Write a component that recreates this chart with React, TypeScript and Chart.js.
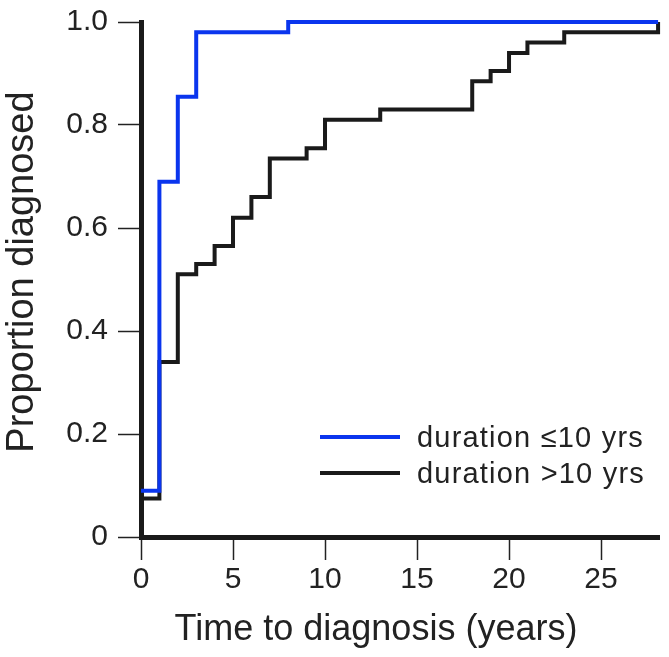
import React, { useEffect, useRef } from "react";
import { Chart, registerables } from "chart.js";

Chart.register(...registerables);

// Kaplan–Meier style cumulative proportion diagnosed
const shortDurationLabel = "duration ≤10 yrs";
const shortDurationTimes = [0, 1, 2, 3, 8, 28.1];
const shortDurationProportion = [0.09, 0.69, 0.855, 0.98, 1.0, 1.0];

const longDurationLabel = "duration >10 yrs";
const longDurationTimes = [0, 1, 2, 3, 4, 5, 6, 7, 9, 10, 13, 18, 19, 20, 21, 23, 28.1];
const longDurationProportion = [
  0.075, 0.34, 0.51, 0.53, 0.565, 0.62, 0.66, 0.735, 0.755, 0.81, 0.83, 0.885, 0.905, 0.94,
  0.96, 0.98, 1.0,
];

const xTickValues = [0, 5, 10, 15, 20, 25];
const yTickValues = [0, 0.2, 0.4, 0.6, 0.8, 1.0];
const xAxisTitle = "Time to diagnosis (years)";
const yAxisTitle = "Proportion diagnosed";

const BLUE = "#0a35ee";
const BLACK = "#1a1a1a";
const TEXT = "#222222";
const FONT = "'Liberation Sans', Arial, sans-serif";

const toPoints = (xs: number[], ys: number[]) => xs.map((x, i) => ({ x, y: ys[i] }));

const overlayPlugin = {
  id: "overlay",
  afterDraw(chart: any) {
    const ctx = chart.ctx as CanvasRenderingContext2D;
    const area = chart.chartArea;
    ctx.save();
    // x-axis title
    ctx.fillStyle = TEXT;
    ctx.font = `36px ${FONT}`;
    ctx.textAlign = "center";
    ctx.textBaseline = "alphabetic";
    ctx.fillText(xAxisTitle, area.left + 235, area.bottom + 103);

    // y-axis title
    ctx.save();
    ctx.translate(23, 272);
    ctx.rotate(-Math.PI / 2);
    ctx.font = `38px ${FONT}`;
    ctx.textAlign = "center";
    ctx.textBaseline = "middle";
    ctx.fillText(yAxisTitle, 0, 0);
    ctx.restore();

    // legend
    const items = chart.data.datasets;
    const lx1 = area.left + 179;
    const lx2 = area.left + 259;
    const rowY = [area.top + 415, area.top + 451];
    items.forEach((ds: any, i: number) => {
      ctx.strokeStyle = ds.borderColor;
      ctx.lineWidth = 4;
      ctx.lineCap = "butt";
      ctx.beginPath();
      ctx.moveTo(lx1, rowY[i]);
      ctx.lineTo(lx2, rowY[i]);
      ctx.stroke();
      ctx.fillStyle = TEXT;
      ctx.font = `29px ${FONT}`;
      (ctx as any).letterSpacing = "1.2px";
      ctx.textAlign = "left";
      ctx.textBaseline = "alphabetic";
      ctx.fillText(ds.label, area.left + 276, rowY[i] + 10);
      (ctx as any).letterSpacing = "0px";
    });
    ctx.restore();
  },
};

export default function App() {
  const ref = useRef<HTMLCanvasElement>(null);

  useEffect(() => {
    if (!ref.current) return;
    const chart = new Chart(ref.current, {
      type: "scatter",
      data: {
        datasets: [
          {
            label: shortDurationLabel,
            data: toPoints(shortDurationTimes, shortDurationProportion),
            showLine: true,
            stepped: "before",
            borderColor: BLUE,
            backgroundColor: BLUE,
            borderWidth: 4,
            borderJoinStyle: "miter",
            borderCapStyle: "butt",
            pointRadius: 0,
            pointHoverRadius: 0,
            clip: false as any,
          },
          {
            label: longDurationLabel,
            data: toPoints(longDurationTimes, longDurationProportion),
            showLine: true,
            stepped: "before",
            borderColor: BLACK,
            backgroundColor: BLACK,
            borderWidth: 4,
            borderJoinStyle: "miter",
            borderCapStyle: "butt",
            pointRadius: 0,
            pointHoverRadius: 0,
            clip: false as any,
          },
        ],
      },
      options: {
        responsive: false,
        animation: false,
        events: [],
        layout: { padding: { top: 22, right: 10, left: 0, bottom: 0 } },
        plugins: {
          legend: { display: false },
          tooltip: { enabled: false },
          title: { display: false },
        },
        scales: {
          x: {
            type: "linear",
            min: 0,
            max: 28.15,
            afterFit: (scale: any) => {
              scale.height = 120;
            },
            afterBuildTicks: (scale: any) => {
              scale.ticks = xTickValues.map((v) => ({ value: v }));
            },
            ticks: {
              color: TEXT,
              font: { family: FONT, size: 30 },
              padding: 2,
              maxRotation: 0,
              autoSkip: false,
              callback: (v: any) => String(v),
            },
            grid: {
              display: true,
              drawOnChartArea: false,
              drawTicks: true,
              tickLength: 23,
              tickWidth: 1.5,
              tickColor: TEXT,
            },
            border: { display: true, width: 5, color: BLACK },
            title: { display: false },
          },
          y: {
            type: "linear",
            min: 0,
            max: 1,
            afterFit: (scale: any) => {
              scale.width = 141;
            },
            afterBuildTicks: (scale: any) => {
              scale.ticks = yTickValues.map((v) => ({ value: v }));
            },
            ticks: {
              color: TEXT,
              font: { family: FONT, size: 30, lineHeight: 0.5 },
              padding: 10,
              autoSkip: false,
              callback: (v: any) => (Number(v) === 0 ? "0" : Number(v).toFixed(1)),
            },
            grid: {
              display: true,
              drawOnChartArea: false,
              drawTicks: true,
              tickLength: 23,
              tickWidth: 1.5,
              tickColor: TEXT,
            },
            border: { display: true, width: 5, color: BLACK },
            title: { display: false },
          },
        },
      },
      plugins: [overlayPlugin],
    } as any);
    return () => chart.destroy();
  }, []);

  return (
    <div
      style={{
        position: "fixed",
        left: 0,
        top: 0,
        width: 669,
        height: 657,
        background: "#ffffff",
      }}
    >
      <canvas ref={ref} width={669} height={657} style={{ display: "block" }} />
    </div>
  );
}
